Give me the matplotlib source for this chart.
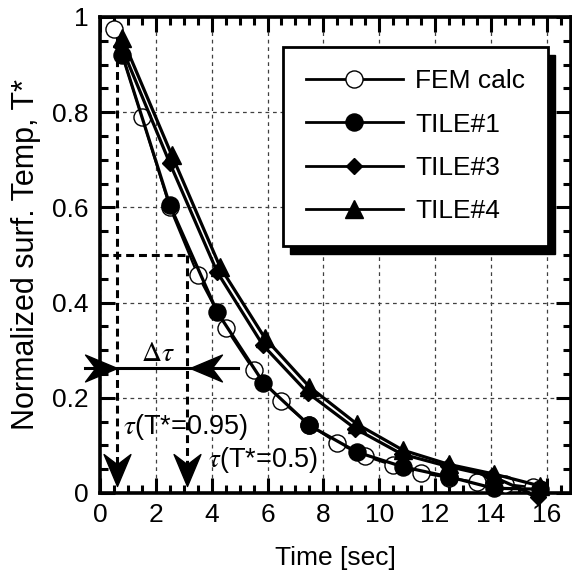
import numpy as np
import matplotlib
matplotlib.use("Agg")
import matplotlib.pyplot as plt
from matplotlib.path import Path
from matplotlib.markers import MarkerStyle
from matplotlib.patches import Rectangle
from matplotlib.transforms import IdentityTransform
from matplotlib.ticker import MultipleLocator

# ---------------- data ----------------
fem_t = [0.5, 1.5, 2.5, 3.5, 4.5, 5.5, 6.5, 7.5, 8.5, 9.5, 10.5, 11.5, 12.5, 13.5, 14.5, 15.5]
fem_T = [0.975, 0.79, 0.60, 0.458, 0.347, 0.258, 0.193, 0.143, 0.105, 0.077, 0.058, 0.042, 0.032, 0.023, 0.019, 0.012]

tile1_t = [0.8, 2.5, 4.2, 5.85, 7.5, 9.2, 10.85, 12.5, 14.1, 15.75]
tile1_T = [0.92, 0.605, 0.38, 0.232, 0.142, 0.086, 0.055, 0.034, 0.010, 0.008]

tile3_t = [0.75, 2.5, 4.2, 5.83, 7.45, 9.15, 10.8, 12.45, 14.05, 15.7]
tile3_T = [0.94, 0.693, 0.464, 0.311, 0.21, 0.135, 0.082, 0.056, 0.035, -0.008]

tile4_t = [0.8, 2.57, 4.3, 5.9, 7.5, 9.2, 10.85, 12.5, 14.1, 15.75]
tile4_T = [0.955, 0.71, 0.475, 0.326, 0.223, 0.145, 0.09, 0.06, 0.04, 0.015]

series_labels = ["FEM calc", "TILE#1", "TILE#3", "TILE#4"]

tau95 = 0.6     # tau(T*=0.95)
tau50 = 3.1     # tau(T*=0.5)
T_half = 0.5
dtau_y = 0.263

xticks = [0, 2, 4, 6, 8, 10, 12, 14, 16]
yticks = [0, 0.2, 0.4, 0.6, 0.8, 1]
ytick_labels = ["0", "0.2", "0.4", "0.6", "0.8", "1"]

# ---------------- style ----------------
plt.rcParams['font.family'] = ['Liberation Sans', 'DejaVu Sans']
plt.rcParams['mathtext.fontset'] = 'stix'
FS = 19

W, H = 572, 580
fig = plt.figure(figsize=(W / 100, H / 100), dpi=100)
ax = fig.add_axes([100 / W, (H - 493) / H, (571 - 100) / W, (493 - 17) / H])

ax.set_xlim(0, 16.87)
ax.set_ylim(0, 1)
ax.set_xticks(xticks)
ax.set_yticks(yticks)
ax.set_yticklabels(ytick_labels)
ax.xaxis.set_minor_locator(MultipleLocator(0.5))
ax.yaxis.set_minor_locator(MultipleLocator(0.05))
ax.tick_params(which='both', direction='in', top=True, right=True, labelsize=FS)
ax.tick_params(which='major', length=11, width=2.2)
ax.tick_params(which='minor', length=5.5, width=2.2)
ax.tick_params(axis='x', which='major', pad=7)
ax.tick_params(axis='y', which='major', pad=8)
for s in ax.spines.values():
    s.set_linewidth(2.6)

ax.grid(True, which='major', color='0.25', linestyle=(0, (3, 3)), linewidth=0.9)
ax.set_axisbelow(True)

ax.set_xlabel("Time [sec]", fontsize=FS, labelpad=14)
ax.set_ylabel("Normalized surf. Temp, T*", fontsize=22, labelpad=8)

# ---------------- annotations ----------------
dash = (0, (2.6, 1.6))
ax.plot([tau95, tau95], [0.966, 0.05], color='k', lw=2.2, ls=dash, zorder=2)
ax.plot([tau50, tau50], [T_half, 0.05], color='k', lw=2.2, ls=dash, zorder=2)
ax.plot([0, tau50], [T_half, T_half], color='k', lw=2.2, ls=dash, zorder=2)

def arrow_marker(direction):
    w, n = 0.42, 0.68
    if direction == 'down':
        v = [(0, 0), (-w, 1), (0, n), (w, 1), (0, 0)]
    elif direction == 'right':
        v = [(0, 0), (-1, w), (-n, 0), (-1, -w), (0, 0)]
    else:
        v = [(0, 0), (1, w), (n, 0), (1, -w), (0, 0)]
    codes = [Path.MOVETO, Path.LINETO, Path.LINETO, Path.LINETO, Path.CLOSEPOLY]
    return MarkerStyle(Path(v, codes))

ax.plot([tau95], [0.015], marker=arrow_marker('down'), ms=46, color='k', ls='none', zorder=6, clip_on=False)
ax.plot([tau50], [0.015], marker=arrow_marker('down'), ms=46, color='k', ls='none', zorder=6, clip_on=False)

ax.plot([-0.55, 4.95], [dtau_y, dtau_y], color='k', lw=2.2, zorder=6, clip_on=False)
ax.plot([tau95], [dtau_y], marker=arrow_marker('right'), ms=46, color='k', ls='none', zorder=6, clip_on=False)
ax.plot([tau50 + 0.12], [dtau_y], marker=arrow_marker('left'), ms=46, color='k', ls='none', zorder=6, clip_on=False)

ax.text(2.08, 0.292, r'$\Delta\tau$', fontsize=FS + 1, ha='center', va='center', zorder=7)
ax.text(0.82, 0.139, r'$\tau$(T*=0.95)', fontsize=FS + 0.5, ha='left', va='center', zorder=7)
ax.text(3.87, 0.069, r'$\tau$(T*=0.5)', fontsize=FS + 0.5, ha='left', va='center', zorder=7)

# ---------------- data series ----------------
ax.plot(fem_t, fem_T, color='k', lw=1.6, marker='o', ms=12.3, mfc='white', mec='k', mew=1.0,
        label=series_labels[0], zorder=3, clip_on=False)
ax.plot(tile1_t, tile1_T, color='k', lw=2.3, marker='o', ms=12.3, mfc='k', mec='k',
        label=series_labels[1], zorder=4, clip_on=False)
ax.plot(tile3_t, tile3_T, color='k', lw=2.3, marker='D', ms=8.5, mfc='k', mec='k',
        label=series_labels[2], zorder=4, clip_on=False)
ax.plot(tile4_t, tile4_T, color='k', lw=2.3, marker='^', ms=13, mfc='k', mec='k',
        label=series_labels[3], zorder=4, clip_on=False)

leg = ax.legend(loc='upper left', bbox_to_anchor=(0.389, 0.937), fontsize=FS,
                frameon=True, fancybox=False, framealpha=1, edgecolor='k',
                handlelength=3.7, handletextpad=0.45, labelspacing=0.73,
                borderpad=0.85, borderaxespad=0.0)
leg.get_frame().set_linewidth(2.0)
leg.set_zorder(11)
for h in leg.legend_handles:
    h.set_linewidth(2.0)

fig.canvas.draw()
bb = leg.get_window_extent()
shadow = Rectangle((bb.x0 + 7, bb.y0 - 8), bb.width, bb.height, transform=IdentityTransform(),
                   facecolor='k', edgecolor='k', zorder=10, clip_on=False)
ax.add_artist(shadow)

fig.savefig("out.png", dpi=100)
